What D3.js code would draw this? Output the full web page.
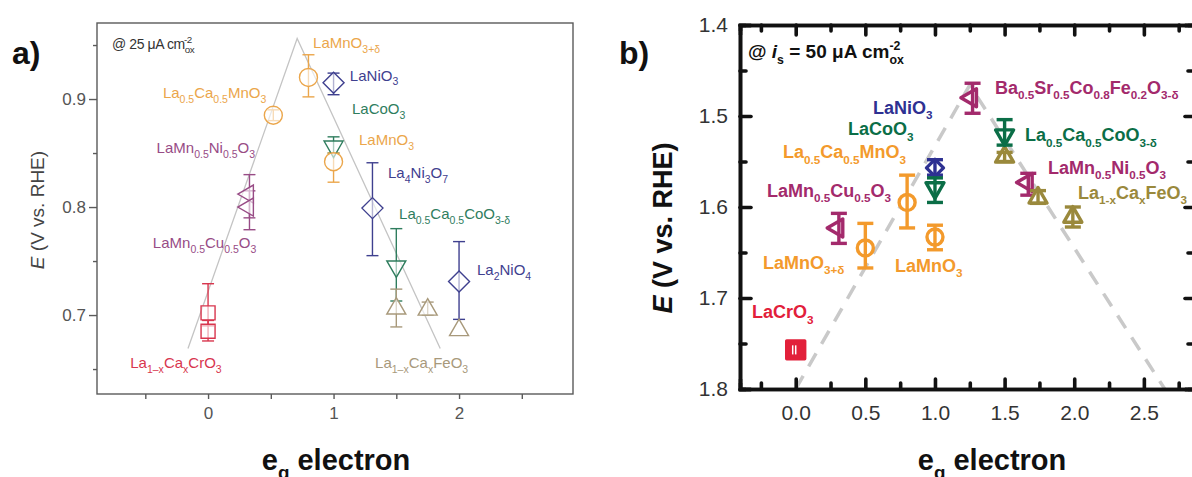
<!DOCTYPE html>
<html>
<head>
<meta charset="utf-8">
<script src="https://cdn.jsdelivr.net/npm/d3@7"></script>
<style>
  body { margin: 0; background: #fff; }
  svg { font-family: "Liberation Sans", Arial, sans-serif; display: block; }
</style>
</head>
<body>
<svg width="1192" height="477"></svg>
<script>
// ---------- panel a data (25 uA cm-2) ----------
const aFamily = ["Cr", "Cr", "mix", "mix", "Mn", "Mn", "Ni", "Co", "Mn", "Ni", "Co", "Fe", "Fe", "Ni", "Fe"];
const aEg = [0, 0, 0.33, 0.33, 0.52, 0.8, 1.0, 1.0, 1.0, 1.31, 1.5, 1.5, 1.75, 2.0, 2.0];
const aE  = [0.702, 0.685, 0.812, 0.800, 0.885, 0.920, 0.915, 0.856, 0.842, 0.799, 0.745, 0.706, 0.705, 0.731, 0.686];
const aLo = [0.690, 0.676, 0.790, 0.779, 0.880, 0.902, 0.904, 0.850, 0.823, 0.755, 0.713, 0.689, 0.700, 0.696, null];
const aHi = [0.729, 0.695, 0.830, 0.815, 0.890, 0.941, 0.924, 0.865, 0.850, 0.841, 0.780, 0.724, 0.712, 0.768, null];

const aLabels = ["La_{0.5}Ca_{0.5}MnO_{3}", "LaMn_{0.5}Ni_{0.5}O_{3}", "LaMn_{0.5}Cu_{0.5}O_{3}", "La_{1–x}Ca_{x}CrO_{3}",
  "LaMnO_{3+δ}", "LaNiO_{3}", "LaCoO_{3}", "LaMnO_{3}", "La_{4}Ni_{3}O_{7}", "La_{0.5}Ca_{0.5}CoO_{3-δ}", "La_{2}NiO_{4}", "La_{1–x}Ca_{x}FeO_{3}"];
const aLabelFamily = ["Mn", "mix", "mix", "Cr", "Mn", "Ni", "Co", "Mn", "Ni", "Co", "Ni", "Fe"];
const aLabelEg = [-0.36, -0.41, -0.44, -0.62, 0.837, 1.13, 1.147, 1.203, 1.434, 1.522, 2.143, 1.331];
const aLabelE  = [0.901, 0.850, 0.762, 0.651, 0.947, 0.917, 0.886, 0.857, 0.827, 0.789, 0.737, 0.651];

const aTrendEg = [-0.16, 0.71, 1.85];
const aTrendE  = [0.669, 0.956, 0.669];

const aXTicks = [-0.5, 0, 0.5, 1, 1.5, 2, 2.5];
const aYTicks = [0.7, 0.8, 0.9];
const aYMinor = [0.65, 0.75, 0.85, 0.95];

// ---------- panel b data (50 uA cm-2) ----------
const bFamily = ["Cr", "mix", "Mn", "Mn", "Mn", "Ni", "Co", "mix", "Fe", "Co", "mix", "Fe", "Fe"];
const bEg = [0, 0.31, 0.5, 0.8, 1.0, 1.0, 1.0, 1.27, 1.5, 1.5, 1.67, 1.74, 1.99];
const bE  = [1.757, 1.623, 1.645, 1.595, 1.633, 1.557, 1.579, 1.480, 1.545, 1.521, 1.573, 1.590, 1.611];
const bLo = [1.752, 1.607, 1.618, 1.565, 1.620, 1.548, 1.568, 1.464, 1.540, 1.504, 1.563, 1.582, 1.600];
const bHi = [1.762, 1.640, 1.667, 1.623, 1.647, 1.565, 1.595, 1.497, 1.550, 1.532, 1.587, 1.596, 1.622];

const bLabels = ["Ba_{0.5}Sr_{0.5}Co_{0.8}Fe_{0.2}O_{3-δ}", "La_{0.5}Ca_{0.5}CoO_{3-δ}", "LaMn_{0.5}Ni_{0.5}O_{3}", "La_{1-x}Ca_{x}FeO_{3}",
  "LaNiO_{3}", "LaCoO_{3}", "La_{0.5}Ca_{0.5}MnO_{3}", "LaMn_{0.5}Cu_{0.5}O_{3}", "LaMnO_{3+δ}", "LaMnO_{3}", "LaCrO_{3}"];
const bLabelFamily = ["mix", "Co", "mix", "Fe", "Ni", "Co", "Mn", "mix", "Mn", "Mn", "Cr"];
const bLabelEg = [1.431, 1.646, 1.811, 2.027, 0.555, 0.375, -0.091, -0.206, -0.235, 0.713, -0.314];
const bLabelE  = [1.4753, 1.528, 1.5632, 1.5907, 1.4973, 1.5214, 1.5467, 1.5885, 1.6676, 1.6709, 1.7225];

const bTrendEg = [0, 1.25, 2.65];
const bTrendE  = [1.8, 1.466, 1.8];

const bXTicks = [0, 0.5, 1, 1.5, 2, 2.5];
const bXMinor = [-0.25, 0.25, 0.75, 1.25, 1.75, 2.25, 2.75];
const bYTicks = [1.4, 1.5, 1.6, 1.7, 1.8];
const bYMinor = [1.45, 1.55, 1.65, 1.75];

const families = ["Cr", "mix", "Mn", "Ni", "Co", "Fe"];
const shape = d3.scaleOrdinal().domain(families).range(["square", "left", "circle", "diamond", "down", "up"]);
const colorA = d3.scaleOrdinal().domain(families)
  .range(["#d8364e", "#984c86", "#eba64b", "#3f408f", "#2f7d5e", "#a8997b"]);
const colorB = d3.scaleOrdinal().domain(families)
  .range(["#e2203a", "#a32a6c", "#f39a2c", "#2e3192", "#0b6e47", "#9a893c"]);

const svg = d3.select("svg");

function markerPath(kind, s) {
  const h = s / 2, t = s * 0.866;
  switch (kind) {
    case "square": return `M${-h},${-h}H${h}V${h}H${-h}Z`;
    case "circle": return `M${h},0A${h},${h} 0 1,1 ${-h},0A${h},${h} 0 1,1 ${h},0Z`;
    case "diamond": return `M0,${-h}L${h},0L0,${h}L${-h},0Z`;
    case "up": return `M0,${-2 * t / 3}L${h},${t / 3}L${-h},${t / 3}Z`;
    case "down": return `M0,${2 * t / 3}L${h},${-t / 3}L${-h},${-t / 3}Z`;
    case "left": return `M${-t * 0.75},0L${t * 0.25},${-h}L${t * 0.25},${h}Z`;
  }
}

// simple markup: _{sub} ^{sup} ~{italic}
function rich(g, str, x, y, size, fill, weight, subScale) {
  const t = g.append("text").attr("x", x).attr("y", y)
    .attr("font-size", size).attr("fill", fill).attr("font-weight", weight || "normal");
  const re = /([_^~])\{([^}]*)\}|([^_^~]+)/g;
  let m, shift = 0, prev = null, prevKind = null;
  while ((m = re.exec(str)) !== null) {
    const kind = m[1] || "n";
    const txt = m[1] ? m[2] : m[3];
    const target = kind === "_" ? size * 0.32 : kind === "^" ? -size * 0.42 : 0;
    const ts = t.append("tspan").text(txt).attr("dy", target - shift);
    shift = target;
    if (kind === "_" || kind === "^") ts.attr("font-size", size * (subScale || 0.68));
    if (kind === "~") ts.attr("font-style", "italic");
    if (kind === "^" && prevKind === "_") ts.attr("dx", -prev.node().getComputedTextLength());
    prev = ts; prevKind = kind;
  }
  return t;
}

// ================= panel a =================
const ax = d3.scaleLinear().domain([-0.885, 2.908]).range([97, 573]);
const ay = d3.scaleLinear().domain([0.6269, 0.9704]).range([394, 23]);
const pa = svg.append("g");

pa.append("path")
  .attr("d", d3.line().x((d, i) => ax(d)).y((d, i) => ay(aTrendE[i]))(aTrendEg))
  .attr("fill", "none").attr("stroke", "#c4c4c4").attr("stroke-width", 1.3);

pa.append("rect").attr("x", 97).attr("y", 23).attr("width", 476).attr("height", 371)
  .attr("fill", "none").attr("stroke", "#5a5a5a").attr("stroke-width", 1.4);

const aXAxis = pa.append("g").attr("transform", "translate(0,394)")
  .call(d3.axisBottom(ax).tickValues(aXTicks).tickSize(5).tickPadding(8)
    .tickFormat(d => Number.isInteger(d) ? d : ""));
const aYAxis = pa.append("g").attr("transform", "translate(97,0)")
  .call(d3.axisLeft(ay).tickValues(aYTicks).tickSize(8).tickPadding(3).tickFormat(d3.format(".1f")));
const aYMinorAxis = pa.append("g").attr("transform", "translate(97,0)")
  .call(d3.axisLeft(ay).tickValues(aYMinor).tickSize(4).tickFormat(""));
[aXAxis, aYAxis, aYMinorAxis].forEach(a => {
  a.select(".domain").remove();
  a.selectAll("line").attr("stroke", "#5a5a5a").attr("stroke-width", 1.4);
  a.selectAll("text").attr("font-size", 17).attr("fill", "#555").attr("font-family", null);
});

const aIdx = d3.range(aEg.length);
// error bars (under markers)
const aBars = pa.append("g").selectAll("g").data(aIdx.filter(i => aLo[i] !== null)).join("g")
  .attr("stroke", i => colorA(aFamily[i])).attr("stroke-width", 1.4);
aBars.append("line").attr("x1", i => ax(aEg[i])).attr("x2", i => ax(aEg[i]))
  .attr("y1", i => ay(aLo[i])).attr("y2", i => ay(aHi[i]));
aBars.append("line").attr("x1", i => ax(aEg[i]) - 6).attr("x2", i => ax(aEg[i]) + 6)
  .attr("y1", i => ay(aLo[i])).attr("y2", i => ay(aLo[i]));
aBars.append("line").attr("x1", i => ax(aEg[i]) - 6).attr("x2", i => ax(aEg[i]) + 6)
  .attr("y1", i => ay(aHi[i])).attr("y2", i => ay(aHi[i]));

const aSize = { square: 14, circle: 18, diamond: 21, up: 19, down: 19, left: 18 };
pa.append("g").selectAll("path").data(aIdx).join("path")
  .attr("transform", i => `translate(${ax(aEg[i])},${ay(aE[i])})`)
  .attr("d", i => markerPath(shape(aFamily[i]), aSize[shape(aFamily[i])]))
  .attr("fill", "white").attr("fill-opacity", 0.6)
  .attr("stroke", i => colorA(aFamily[i])).attr("stroke-width", 1.4);

aLabels.forEach((s, i) => rich(pa, s, ax(aLabelEg[i]), ay(aLabelE[i]), 15, colorA(aLabelFamily[i]), "normal", 0.7));

rich(pa, "@ 25 μA cm_{ox}^{-2}", 112, 49, 14, "#333", "normal", 0.7).attr("letter-spacing", -0.4);

const aYLab = pa.append("g").attr("transform", "translate(44,210) rotate(-90)");
rich(aYLab, "~{E} (V vs. RHE)", 0, 0, 19, "#444", "normal").attr("text-anchor", "middle");
rich(pa, "e_{g} electron", 336, 470, 29, "#111", "bold", 0.65).attr("text-anchor", "middle");
svg.append("text").attr("x", 12).attr("y", 64).attr("font-size", 32).attr("font-weight", "bold")
  .attr("fill", "#111").text("a)");

// ================= panel b =================
const bx = d3.scaleLinear().domain([-0.4, 2.86]).range([740, 1194]);
const by = d3.scaleLinear().domain([1.4, 1.8]).range([25, 389]);
const pb = svg.append("g");

pb.append("clipPath").attr("id", "clipb").append("rect")
  .attr("x", 740).attr("y", 25).attr("width", 454).attr("height", 364);
pb.append("path").attr("clip-path", "url(#clipb)")
  .attr("d", d3.line().x(d => bx(d)).y((d, i) => by(bTrendE[i]))(bTrendEg))
  .attr("fill", "none").attr("stroke", "#c9c9c9").attr("stroke-width", 3.5)
  .attr("stroke-dasharray", "15,11");

const bAxes = [
  pb.append("g").attr("transform", "translate(0,389)")
    .call(d3.axisBottom(bx).tickValues(bXTicks).tickSize(-10).tickPadding(16).tickFormat(d3.format(".1f"))),
  pb.append("g").attr("transform", "translate(0,389)")
    .call(d3.axisBottom(bx).tickValues(bXMinor).tickSize(-6).tickFormat("")),
  pb.append("g").attr("transform", "translate(0,25)")
    .call(d3.axisTop(bx).tickValues(bXTicks).tickSize(-10).tickFormat("")),
  pb.append("g").attr("transform", "translate(0,25)")
    .call(d3.axisTop(bx).tickValues(bXMinor).tickSize(-6).tickFormat("")),
  pb.append("g").attr("transform", "translate(740,0)")
    .call(d3.axisLeft(by).tickValues(bYTicks).tickSize(-11).tickPadding(12).tickFormat(d3.format(".1f"))),
  pb.append("g").attr("transform", "translate(740,0)")
    .call(d3.axisLeft(by).tickValues(bYMinor).tickSize(-6).tickFormat("")),
  pb.append("g").attr("transform", "translate(1194,0)")
    .call(d3.axisRight(by).tickValues(bYTicks).tickSize(-9).tickFormat("")),
  pb.append("g").attr("transform", "translate(1194,0)")
    .call(d3.axisRight(by).tickValues(bYMinor).tickSize(-6).tickFormat(""))
];
bAxes.forEach(a => {
  a.select(".domain").attr("stroke", "#111").attr("stroke-width", 3.6);
  a.selectAll("line").attr("stroke", "#111").attr("stroke-width", 3.6).attr("stroke-linecap", "round");
  a.selectAll("text").attr("font-size", 21).attr("fill", "#333").attr("font-family", null);
});

const bIdx = d3.range(bEg.length);
const bSize = { square: 18, circle: 16, diamond: 17, up: 18, down: 18, left: 18 };
bIdx.forEach(i => {
  const f = bFamily[i], c = colorB(f), x = bx(bEg[i]);
  const g = pb.append("g");
  g.append("path").attr("transform", `translate(${x},${by(bE[i])})`)
    .attr("d", markerPath(shape(f), bSize[shape(f)]))
    .attr("fill", f === "Cr" ? c : "white")
    .attr("stroke", c).attr("stroke-width", 3.4).attr("stroke-linejoin", "round");
  const bc = f === "Cr" ? "white" : c;
  const cw = f === "Cr" ? 0 : 8;
  const e = g.append("g").attr("stroke", bc).attr("stroke-width", f === "Cr" ? 1.5 : 3.4);
  e.append("line").attr("x1", x).attr("x2", x).attr("y1", by(bLo[i])).attr("y2", by(bHi[i]));
  if (cw) {
    e.append("line").attr("x1", x - cw).attr("x2", x + cw).attr("y1", by(bLo[i])).attr("y2", by(bLo[i]));
    e.append("line").attr("x1", x - cw).attr("x2", x + cw).attr("y1", by(bHi[i])).attr("y2", by(bHi[i]));
  } else {
    e.append("line").attr("x1", x - 3).attr("x2", x - 3).attr("y1", by(bLo[i])).attr("y2", by(bHi[i]));
  }
});

bLabels.forEach((s, i) => rich(pb, s, bx(bLabelEg[i]), by(bLabelE[i]), 18, colorB(bLabelFamily[i]), "bold", 0.65));

rich(pb, "@ ~{i}_{s} = 50 μA cm_{ox}^{-2}", 748, 58, 19, "#111", "bold", 0.65);

const bYLab = pb.append("g").attr("transform", "translate(672,228) rotate(-90)");
rich(bYLab, "~{E} (V vs. RHE)", 0, 0, 27, "#111", "bold").attr("text-anchor", "middle");
rich(pb, "e_{g} electron", 992, 470, 29, "#111", "bold", 0.65).attr("text-anchor", "middle");
svg.append("text").attr("x", 619).attr("y", 64).attr("font-size", 32).attr("font-weight", "bold")
  .attr("fill", "#111").text("b)");
</script>
</body>
</html>
